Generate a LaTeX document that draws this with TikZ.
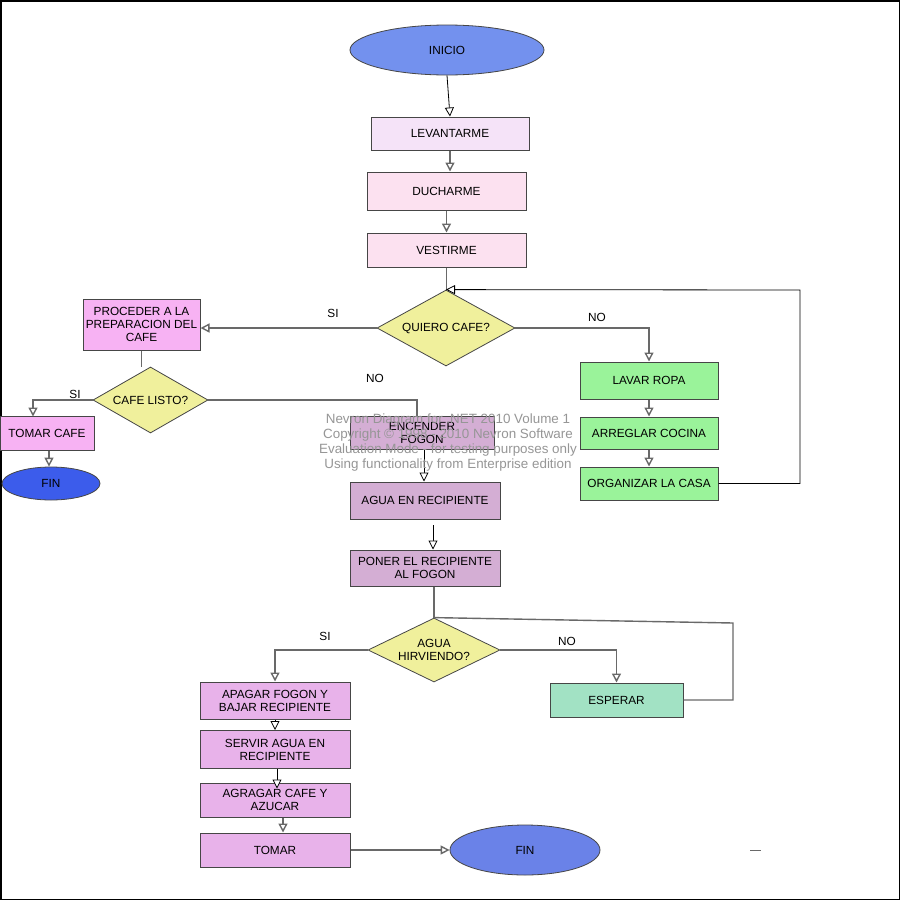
\documentclass[tikz,border=0pt]{standalone}
\usepackage{fontspec}
\setmainfont{Liberation Sans}
\usetikzlibrary{shapes.geometric,arrows.meta,calc}
\definecolor{boxline}{RGB}{70,70,70}
\definecolor{conncol}{RGB}{105,105,105}
\definecolor{inicol}{RGB}{115,145,238}
\definecolor{fincolA}{RGB}{60,92,235}
\definecolor{fincolB}{RGB}{106,130,232}
\definecolor{levcol}{RGB}{245,227,248}
\definecolor{pinkcol}{RGB}{252,225,240}
\definecolor{diacol}{RGB}{240,240,156}
\definecolor{proccol}{RGB}{247,178,243}
\definecolor{mauvecol}{RGB}{212,174,212}
\definecolor{lilaccol}{RGB}{232,178,234}
\definecolor{mintcol}{RGB}{162,226,196}
\definecolor{greencol}{RGB}{154,243,154}
\definecolor{wmcol}{RGB}{150,150,150}
\begin{document}
\begin{tikzpicture}[x=1pt,y=-1pt,
  every node/.style={font=\fontsize{11.8}{13}\selectfont, text=black, inner sep=0pt},
  box/.style={draw=boxline, line width=1pt, rectangle, align=center},
  dia/.style={draw=boxline, line width=0.8pt, diamond, fill=diacol, align=center},
  ell/.style={draw=boxline, line width=0.8pt, ellipse},
  conn/.style={draw=conncol, line width=1.4pt, -{Triangle[open,length=9pt,width=9pt,fill=white]}},
  thinconn/.style={draw=black, line width=0.8pt, -{Triangle[open,length=9pt,width=9pt,fill=white]}},
  plain/.style={draw=conncol, line width=1.4pt},
  lbl/.style={font=\fontsize{11.8}{13}\selectfont}
]
\useasboundingbox (0,0) rectangle (900,900);
\fill[white] (0,0) rectangle (900,900);
\draw[black, line width=1.5pt] (0.75,0.75) rectangle (899.25,899.25);

% nodes
\node[ell, fill=inicol, minimum width=194pt, minimum height=50pt] (inicio) at (447,50) {INICIO};
\node[box, fill=levcol, minimum width=158pt, minimum height=33pt] (lev) at (450,133.5) {LEVANTARME};
\node[box, fill=pinkcol, minimum width=159pt, minimum height=38pt] (duch) at (446.5,191) {DUCHARME};
\node[box, fill=pinkcol, minimum width=159pt, minimum height=34pt] (vest) at (446.5,250) {VESTIRME};
\node[dia, shape aspect=1.82, minimum width=138pt, minimum height=76pt] (quiero) at (446,328) {QUIERO CAFE?};
\node[box, fill=proccol, minimum width=117pt, minimum height=51pt] (proc) at (141.5,324.5) {PROCEDER A LA\\PREPARACION DEL\\CAFE};
\node[dia, shape aspect=1.74, minimum width=115pt, minimum height=66pt] (listo) at (150.5,400) {CAFE LISTO?};
\node[box, fill=proccol, minimum width=94pt, minimum height=34pt] (tomarcafe) at (47,433) {TOMAR CAFE};
\node[ell, fill=fincolA, minimum width=98pt, minimum height=33pt] (fin1) at (51,483.5) {FIN};
\node[box, fill=mauvecol, minimum width=144pt, minimum height=33pt] (enc) at (422,432.5) {ENCENDER\\FOGON};
\node[box, fill=mauvecol, minimum width=150pt, minimum height=37pt] (agua) at (425,500.5) {AGUA EN RECIPIENTE};
\node[box, fill=mauvecol, minimum width=150pt, minimum height=36pt] (poner) at (425,568) {PONER EL RECIPIENTE\\AL FOGON};
\node[dia, shape aspect=2.06, minimum width=132pt, minimum height=64pt] (hirv) at (434,650) {AGUA\\HIRVIENDO?};
\node[box, fill=mintcol, minimum width=133pt, minimum height=34pt] (esperar) at (616.5,700) {ESPERAR};
\node[box, fill=lilaccol, minimum width=150pt, minimum height=37pt] (apagar) at (275,700.5) {APAGAR FOGON Y\\BAJAR RECIPIENTE};
\node[box, fill=lilaccol, minimum width=150pt, minimum height=38pt] (servir) at (275,749.5) {SERVIR AGUA EN\\RECIPIENTE};
\node[box, fill=lilaccol, minimum width=150pt, minimum height=34pt] (agragar) at (275,800) {AGRAGAR CAFE Y\\AZUCAR};
\node[box, fill=lilaccol, minimum width=150pt, minimum height=34pt] (tomar) at (275,850) {TOMAR};
\node[ell, fill=fincolB, minimum width=150pt, minimum height=50pt] (fin2) at (525,850) {FIN};
\node[box, fill=greencol, minimum width=138pt, minimum height=37pt] (lavar) at (649,380.5) {LAVAR ROPA};
\node[box, fill=greencol, minimum width=138pt, minimum height=32pt] (arreglar) at (649,433) {ARREGLAR COCINA};
\node[box, fill=greencol, minimum width=138pt, minimum height=33pt] (organizar) at (649,483.5) {ORGANIZAR LA CASA};

% helper coordinates
\coordinate (loopR) at (800,290);
\coordinate (tcIn) at (33,416.5);
\coordinate (encIn) at (417,416.5);
\coordinate (aguaOut) at (433,525);
\coordinate (espR) at (733,623);
\coordinate (dashA) at (750,850);
\coordinate (dashB) at (761,850);

% connectors
\draw[thinconn] (inicio.south) -- (lev.north);
\draw[conn] (lev.south) -- (lev.south |- duch.north);
\draw[conn] (duch.south) -- (duch.south |- vest.north);
\draw[plain] (vest.south) -- (vest.south |- quiero.north);
\draw[thinconn] (organizar.east) -| (loopR) -- (quiero.north);
\draw[conn] (quiero.west) -- (quiero.west -| proc.east);
\draw[conn] (quiero.east) -| (lavar.north);
\draw[conn] (lavar.south) -- (arreglar.north);
\draw[conn] (arreglar.south) -- (organizar.north);
\draw[plain] (proc.south) -- (proc.south |- listo.north);
\draw[conn] (listo.west) -| (tcIn);
\draw[conn] ($(tomarcafe.south)+(2,0)$) -- ($(tomarcafe.south |- fin1.north)+(2,0)$);
\draw[plain] (listo.east) -| (encIn);
\draw[thinconn] ($(enc.south)+(2,0)$) -- ($(enc.south |- agua.north)+(2,0)$);
\draw[thinconn] (aguaOut) -- (aguaOut |- poner.north);
\draw[plain] (poner.south -| hirv.north) -- (hirv.north);
\draw[plain] (esperar.east) -| (espR) -- (hirv.north);
\draw[conn] (hirv.west) -| (apagar.north);
\draw[conn] (hirv.east) -| (esperar.north);
\draw[thinconn] (apagar.south) -- (servir.north);
\draw[thinconn] ($(servir.south)+(2,0)$) -- ($(agragar.north)+(2,6)$);
\draw[conn] ($(agragar.south)+(8,0)$) -- ($(tomar.north)+(8,0)$);
\draw[conn] (tomar.east) -- (fin2.west);
\draw[conncol, line width=1pt] (dashA) -- (dashB);

% labels
\node[lbl] (siA) at (333,313) {SI};
\node[lbl] (noA) at (597,317) {NO};
\node[lbl] (siB) at (75,394) {SI};
\node[lbl] (noB) at (375,378) {NO};
\node[lbl] (siC) at (325,636) {SI};
\node[lbl] (noC) at (567,641) {NO};

% watermark
\node[text=wmcol, align=center, font=\fontsize{13.4}{15}\selectfont] (wm) at (448,443) {Nevron Diagram for .NET 2010 Volume 1\\Copyright © 1998 - 2010 Nevron Software\\Evaluation Mode - for testing purposes only\\Using functionality from Enterprise edition};
\end{tikzpicture}
\end{document}
